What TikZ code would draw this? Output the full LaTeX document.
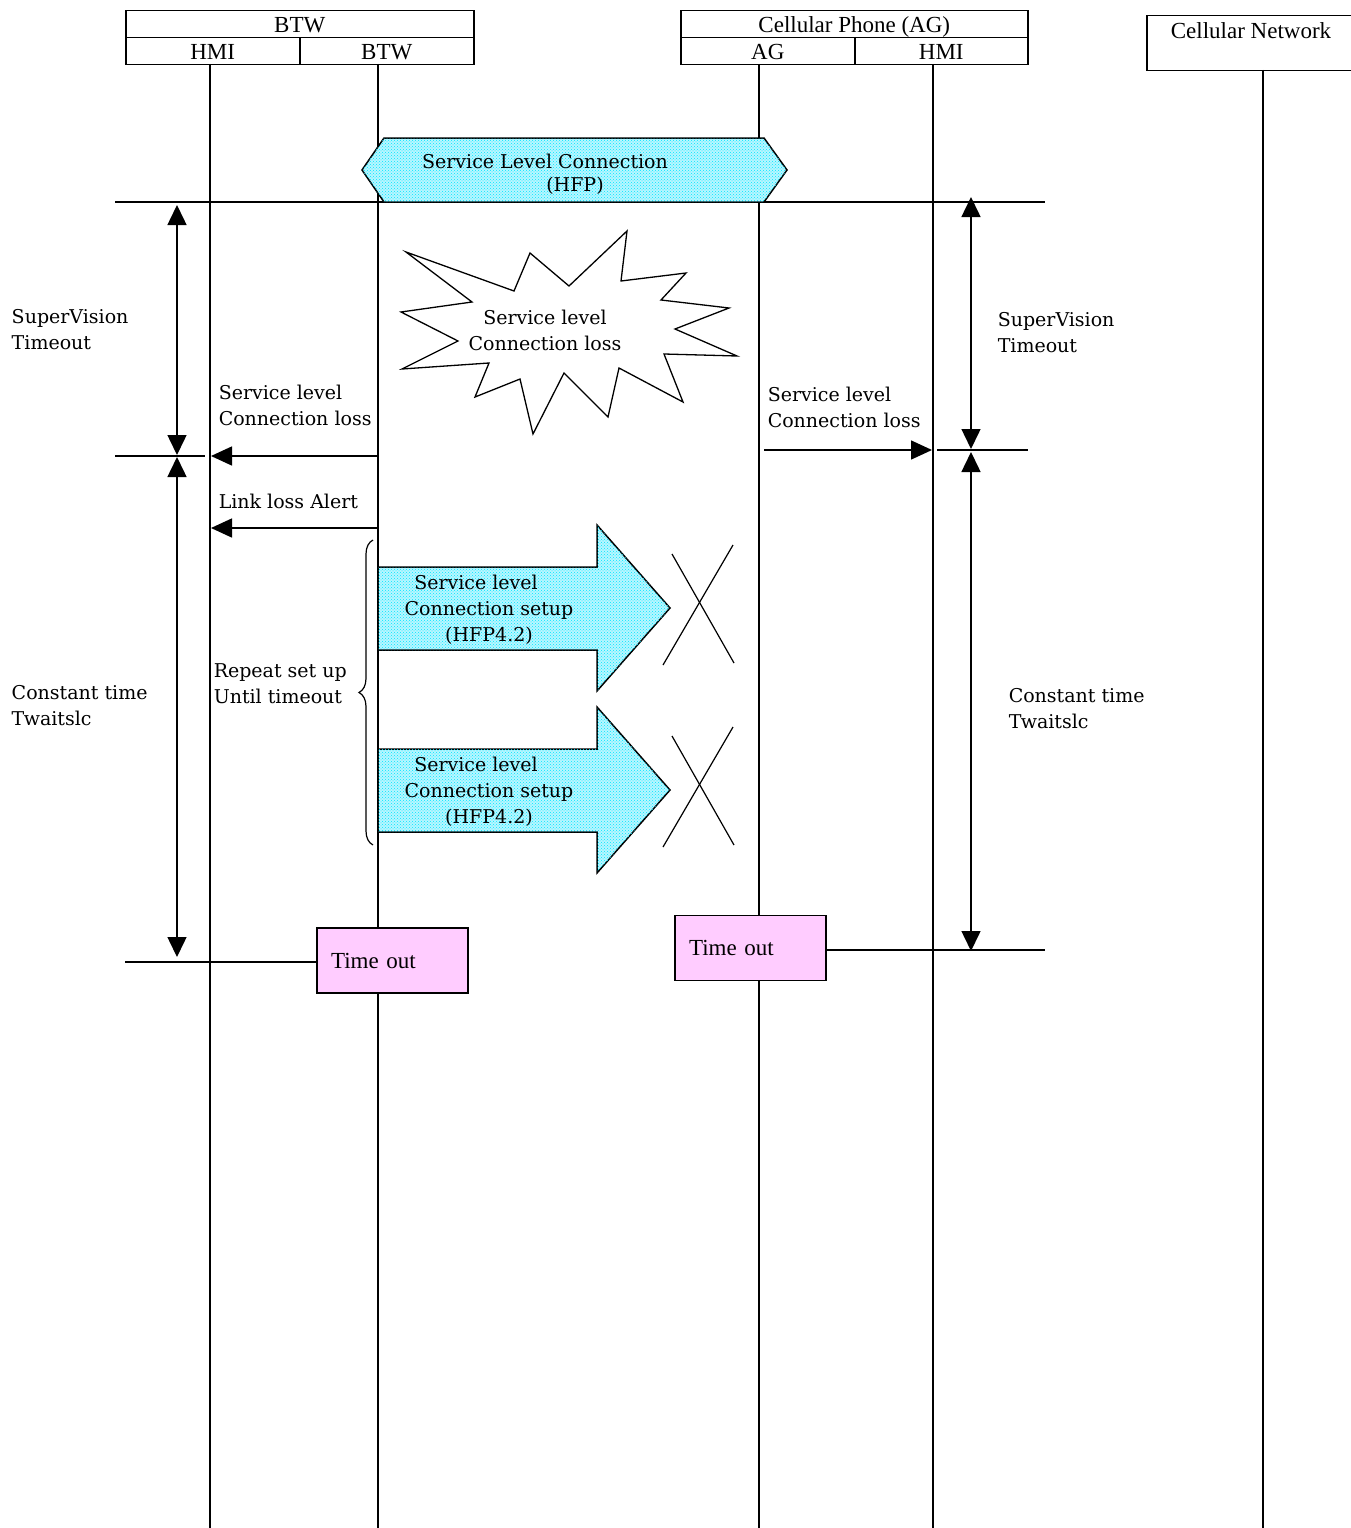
\documentclass[tikz,border=0pt]{standalone}
\usepackage{fontspec}
\setmainfont{DejaVu Serif}
\newfontfamily\hdrfont{Liberation Serif}
\usetikzlibrary{arrows.meta,patterns,decorations.pathreplacing}
\definecolor{tobox}{HTML}{FFCCFF}
\definecolor{dotcyan}{HTML}{00E5FF}
\definecolor{dotbg}{HTML}{B8F6FF}

\begin{document}
\begin{tikzpicture}[x=1pt,y=-1pt,line width=1.5pt,
  lbl/.style={font=\fontsize{19}{26}\selectfont, inner sep=0pt, align=left, anchor=north west},
  ctr/.style={font=\fontsize{19}{26}\selectfont, inner sep=0pt, align=center},
  hdr/.style={draw, font=\hdrfont\fontsize{23}{27}\selectfont, minimum height=27,
    inner sep=0pt, text height=18, text depth=1, anchor=north west},
  hdrtext/.style={font=\hdrfont\fontsize{23}{27}\selectfont, inner sep=0pt},
  lifeline/.style={line width=1.5pt},
  msg/.style={-{Triangle[length=21pt,width=19pt]}},
  span/.style={{Triangle[length=20pt,width=19pt]}-{Triangle[length=20pt,width=19pt]}},
  dotted fill/.style={fill=dotbg, postaction={pattern=crosshatch dots, pattern color=dotcyan}},
  tbox/.style={draw, fill=tobox, minimum width=151, minimum height=65, inner xsep=14,
    text width=123, align=left, font=\hdrfont\fontsize{23}{27}\selectfont},
  cross/.style={line width=1.2pt},
]
\useasboundingbox (0,0) rectangle (1351,1528);

% ---- entity headers ----
\node[hdr, minimum width=348] (btw) at (125,10) {BTW};
\node[hdr, minimum width=174] (btwhmi) at (125,37) {HMI};
\node[hdr, minimum width=174] (btwbtw) at (299,37) {BTW};
\node[hdr, minimum width=347] (phone) at (680,10) {Cellular Phone (AG)};
\node[hdr, minimum width=174] (phoneag) at (680,37) {AG};
\node[hdr, minimum width=173] (phonehmi) at (854,37) {HMI};
\node[draw, minimum width=215, minimum height=55, inner sep=0pt, anchor=north west] (cnbox) at (1146,15) {};
\node[hdrtext] (cnlbl) at (1251,31) {Cellular Network};

% ---- lifelines ----
\coordinate (hmiA) at (210,64);   \coordinate (hmiAend) at (210,1530);
\coordinate (btwL) at (378,64);   \coordinate (btwLend) at (378,1530);
\coordinate (agL) at (759,64);    \coordinate (agLend) at (759,1530);
\coordinate (hmiB) at (933,64);   \coordinate (hmiBend) at (933,1530);
\coordinate (cnL) at (1263,70);   \coordinate (cnLend) at (1263,1530);
\foreach \a/\b in {hmiA/hmiAend, btwL/btwLend, agL/agLend, hmiB/hmiBend, cnL/cnLend}
  \draw[lifeline] (\a) -- (\b);

% ---- timing reference lines ----
\coordinate (h1a) at (115,202);  \coordinate (h1b) at (1045,202);
\draw (h1a) -- (h1b);
\coordinate (h2a) at (115,456);  \coordinate (h2b) at (205,456);
\draw (h2a) -- (h2b);
\coordinate (h3a) at (937,450);  \coordinate (h3b) at (1028,450);
\draw (h3a) -- (h3b);

% ---- supervision / constant time spans ----
\coordinate (s1a) at (177,205); \coordinate (s1b) at (177,455);
\coordinate (s2a) at (177,457); \coordinate (s2b) at (177,957);
\coordinate (s3a) at (971,197); \coordinate (s3b) at (971,449);
\coordinate (s4a) at (971,452); \coordinate (s4b) at (971,951);
\draw[span] (s1a) -- (s1b);
\draw[span] (s2a) -- (s2b);
\draw[span] (s3a) -- (s3b);
\draw[span] (s4a) -- (s4b);
\node[lbl] (lsv) at (11,309) {SuperVision\\Timeout};
\node[lbl] (lct) at (11,685) {Constant time\\Twaitslc};
\node[lbl] (rsv) at (997,312) {SuperVision\\Timeout};
\node[lbl] (rct) at (1008,688) {Constant time\\Twaitslc};

% ---- service level connection ----
\path[draw, dotted fill] (362,170) -- (384,138) -- (764,138) -- (787,170)
  -- (764,202) -- (384,202) -- cycle;
\node[ctr] (slc1) at (545,161) {Service Level Connection};
\node[ctr] (slc2) at (575,186) {(HFP)};

% ---- connection loss burst ----
\draw[line width=1.3pt, line join=miter] (406,252) -- (514,291) -- (530,253) -- (569,286) -- (627,231)
  -- (621,281) -- (686,273) -- (661,300) -- (729,308) -- (675,329) -- (737,356)
  -- (664,354) -- (683,402) -- (619,368) -- (608,417) -- (564,373) -- (533,434)
  -- (520,379) -- (475,397) -- (489,363) -- (402,369) -- (458,341) -- (401,312)
  -- (472,302) -- cycle;
\node[ctr] (burst) at (545,330) {Service level\\Connection loss};

% ---- loss notifications ----
\coordinate (m1s) at (378,456); \coordinate (m1e) at (211,456);
\draw[msg] (m1s) -- (m1e);
\node[lbl] (m1lbl) at (218,384) {Service level\\Connection loss};
\coordinate (m2s) at (378,528); \coordinate (m2e) at (211,528);
\draw[msg] (m2s) -- (m2e);
\node[lbl] (m2lbl) at (218,493) {Link loss Alert};
\coordinate (m3s) at (764,450); \coordinate (m3e) at (932,450);
\draw[msg] (m3s) -- (m3e);
\node[lbl] (m3lbl) at (767,386) {Service level\\Connection loss};

% ---- repeated setup attempts ----
\foreach \dy/\nm in {0/a1, 182/a2} {
  \path[draw, dotted fill, line width=1.5pt] (378,567+\dy) -- (597,567+\dy) -- (597,525+\dy)
    -- (670,608+\dy) -- (597,691+\dy) -- (597,650+\dy) -- (378,650+\dy) -- cycle;
  \node[ctr] (\nm) at (489,610+\dy) {Service level\hspace*{26pt}\\Connection setup\\(HFP4.2)};
  \draw[cross] (663,665+\dy) -- (733,545+\dy);
  \draw[cross] (672,554+\dy) -- (734,663+\dy);
}
\coordinate (br1) at (373,845); \coordinate (br2) at (373,540);
\draw[line width=1.2pt, decorate, decoration={brace, amplitude=14pt}] (br1) -- (br2);
\node[lbl] (rep) at (213,663) {Repeat set up\\Until timeout};

% ---- timeouts ----
\node[tbox] (to1) at (392.5,960.5) {Time out};
\node[tbox] (to2) at (750.5,948) {Time out};
\coordinate (t1) at (125,962);
\draw (t1) -- (t1 -| to1.west);
\coordinate (t2) at (1045,950);
\draw (t2 -| to2.east) -- (t2);
\end{tikzpicture}
\end{document}
